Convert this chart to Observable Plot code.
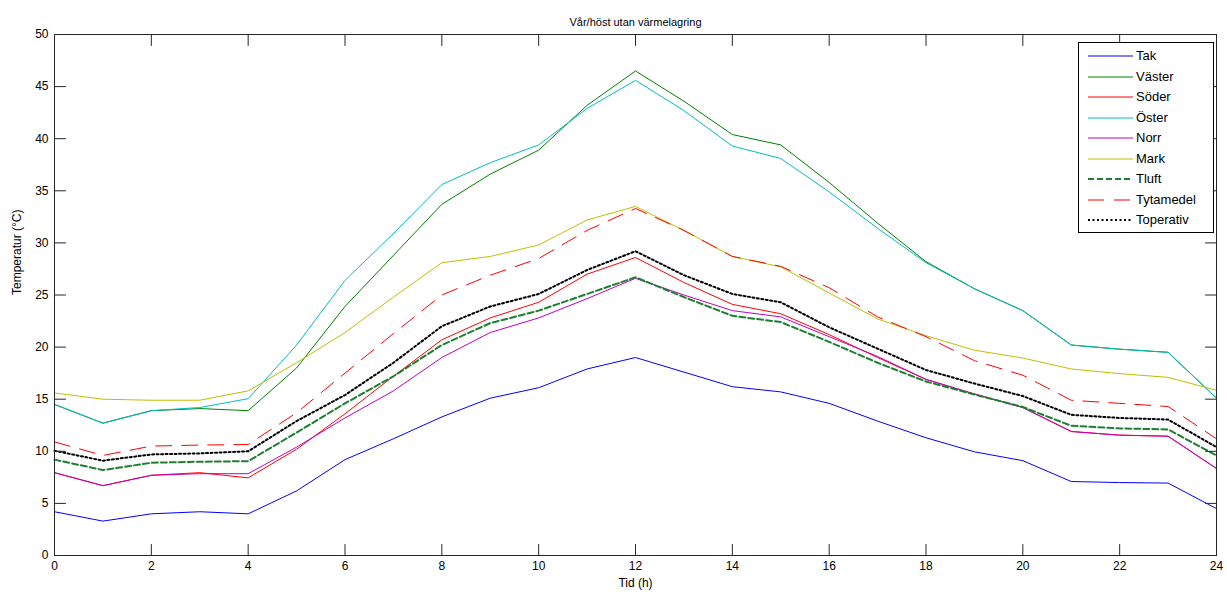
<!DOCTYPE html>
<html><head><meta charset="utf-8">
<script src="https://cdn.jsdelivr.net/npm/d3@7"></script>
<script src="https://cdn.jsdelivr.net/npm/@observablehq/plot@0.6"></script>
<style>
body{margin:0;background:#fff;}
#wrap{position:relative;width:1227px;height:596px;font-family:Arial,"Liberation Sans",sans-serif;}
#legend{position:absolute;left:1078px;top:42px;width:136px;height:191px;border:1px solid #000;background:#fff;box-sizing:border-box;}
.row{position:absolute;left:0;height:20px;display:flex;align-items:center;}
.row svg{margin-left:9px;display:block;}
.row span{margin-left:3px;font-size:13px;color:#000;line-height:20px;}
</style></head>
<body><div id="wrap"></div>
<script>
const title = "Vår/höst utan värmelagring";
const xLabel = "Tid (h)";
const yLabel = "Temperatur (°C)";
const xTicks = [0,2,4,6,8,10,12,14,16,18,20,22,24];
const yTicks = [0,5,10,15,20,25,30,35,40,45,50];
const hours = [0,1,2,3,4,5,6,7,8,9,10,11,12,13,14,15,16,17,18,19,20,21,22,23,24];

const tak       = [4.2,3.3,4.0,4.2,4.0,6.2,9.2,11.2,13.3,15.1,16.1,17.9,19.0,17.6,16.2,15.7,14.6,12.9,11.3,9.95,9.1,7.1,7.0,6.95,4.5];
const vaster    = [14.5,12.7,13.9,14.1,13.9,18.0,23.9,28.8,33.7,36.6,38.9,43.2,46.5,43.6,40.4,39.4,35.8,31.9,28.2,25.6,23.5,20.2,19.8,19.5,15.1];
const soder     = [7.95,6.7,7.7,7.95,7.45,10.2,13.6,17.2,20.7,22.8,24.3,27.0,28.6,26.2,24.1,23.2,21.2,19.0,16.9,15.5,14.2,11.9,11.55,11.45,8.35];
const oster     = [14.5,12.7,13.9,14.2,15.05,20.2,26.4,30.9,35.6,37.7,39.4,42.9,45.6,42.7,39.3,38.1,34.9,31.4,28.1,25.6,23.5,20.2,19.8,19.5,15.1];
const norr      = [7.95,6.7,7.7,7.85,7.85,10.4,13.2,15.8,19.0,21.4,22.8,24.65,26.6,25.0,23.5,22.9,21.0,19.1,16.9,15.5,14.2,11.9,11.55,11.45,8.35];
const mark      = [15.6,15.0,14.9,14.9,15.8,18.5,21.4,24.8,28.1,28.7,29.8,32.2,33.5,31.2,28.7,27.7,25.2,22.7,21.1,19.7,18.95,17.9,17.45,17.1,15.85];
const tluft     = [9.2,8.2,8.9,9.0,9.05,11.8,14.6,17.2,20.2,22.3,23.5,25.1,26.7,24.8,23.0,22.4,20.5,18.5,16.7,15.45,14.25,12.45,12.2,12.1,9.6];
const tytamedel = [10.9,9.6,10.5,10.6,10.65,13.7,17.5,21.3,25.0,26.9,28.5,31.2,33.3,31.2,28.7,27.75,25.7,22.9,21.0,18.7,17.3,14.9,14.6,14.3,11.2];
const toperativ = [10.05,9.1,9.7,9.8,10.0,12.9,15.4,18.5,22.0,23.9,25.1,27.4,29.2,26.9,25.1,24.3,21.9,19.85,17.8,16.5,15.3,13.5,13.2,13.05,10.4];

const seriesNames = ["Tak","Väster","Söder","Öster","Norr","Mark","Tluft","Tytamedel","Toperativ"];
const seriesValues = [tak,vaster,soder,oster,norr,mark,tluft,tytamedel,toperativ];
const seriesStyles = [
  {stroke:"#0000FF", strokeWidth:1, dash:null},
  {stroke:"#008000", strokeWidth:1, dash:null},
  {stroke:"#FF0000", strokeWidth:1, dash:null},
  {stroke:"#00BFBF", strokeWidth:1, dash:null},
  {stroke:"#BF00BF", strokeWidth:1, dash:null},
  {stroke:"#BFBF00", strokeWidth:1, dash:null},
  {stroke:"#1E7F32", strokeWidth:2, dash:"6,3"},
  {stroke:"#FF0000", strokeWidth:1, dash:"16,10"},
  {stroke:"#000000", strokeWidth:2, dash:"2,2.5"}
];

const lineMarks = seriesNames.map((name, i) => {
  const data = hours.map((h, j) => ({h, v: seriesValues[i][j]}));
  const s = seriesStyles[i];
  const opts = {x:"h", y:"v", stroke:s.stroke, strokeWidth:s.strokeWidth};
  if (s.dash) opts.strokeDasharray = s.dash;
  return Plot.line(data, opts);
});

const axisColor = "#262626";
const tickLen = 11;
const tickShape = {draw(context, l) { context.moveTo(0, 0); context.lineTo(0, -l); }};
const tickOpts = {length: tickLen, anchor: "start", shape: tickShape, stroke: axisColor, strokeWidth: 1};

const chart = Plot.plot({
  width: 1227, height: 596,
  marginLeft: 54, marginRight: 11, marginTop: 34, marginBottom: 41,
  style: {fontFamily: "Arial, 'Liberation Sans', sans-serif", fontSize: "12px", background: "#fff", color: "#000"},
  x: {domain: [0,24]},
  y: {domain: [0,50]},
  marks: [
    ...lineMarks,
    Plot.frame({stroke: axisColor}),
    Plot.axisX(xTicks, {anchor:"bottom", tickSize:0, tickPadding:6, label:null, fill:"#000"}),
    Plot.axisY(yTicks, {anchor:"left", tickSize:0, tickPadding:6, label:null, fill:"#000"}),
    Plot.vector(xTicks, {x: d => d, frameAnchor: "bottom", rotate: 0, ...tickOpts}),
    Plot.vector(xTicks, {x: d => d, frameAnchor: "top", rotate: 180, ...tickOpts}),
    Plot.vector(yTicks, {y: d => d, frameAnchor: "left", rotate: 90, ...tickOpts}),
    Plot.vector(yTicks, {y: d => d, frameAnchor: "right", rotate: -90, ...tickOpts}),
    Plot.text([title], {frameAnchor:"top", dy:-16, fontSize:11, fill:"#000"}),
    Plot.text([xLabel], {frameAnchor:"bottom", dy:31, fontSize:12, fill:"#000"}),
    Plot.text([yLabel], {frameAnchor:"left", dx:-37, rotate:-90, fontSize:12, fill:"#000"})
  ]
});
const wrap = document.getElementById("wrap");
wrap.appendChild(chart);

const legend = document.createElement("div");
legend.id = "legend";
seriesNames.forEach((name, i) => {
  const s = seriesStyles[i];
  const row = document.createElement("div");
  row.className = "row";
  row.style.top = (3 + 20.5*i) + "px";
  row.innerHTML = `<svg width="45" height="6"><line x1="0" y1="3" x2="45" y2="3" stroke="${s.stroke}" stroke-width="${s.strokeWidth}" ${s.dash ? `stroke-dasharray="${s.dash}"` : ""}/></svg><span>${name}</span>`;
  legend.appendChild(row);
});
wrap.appendChild(legend);
</script>
</body></html>
